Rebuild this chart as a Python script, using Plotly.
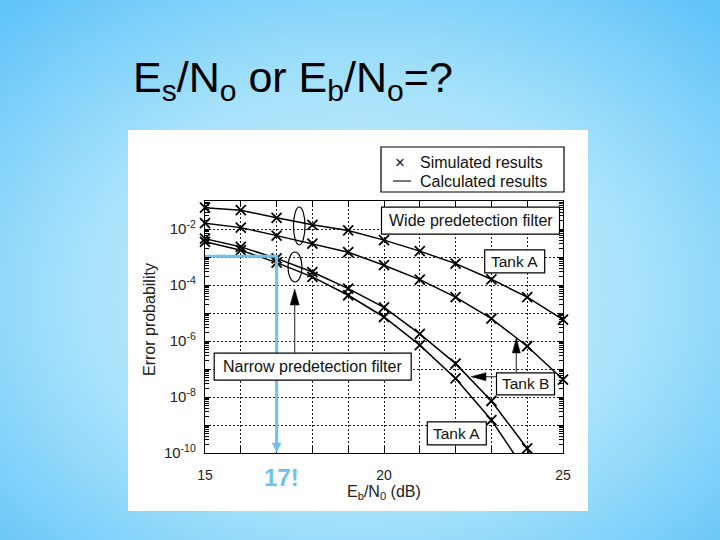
import base64
import plotly.graph_objects as go

# ---------------- data ----------------
eb_db = [15, 16, 17, 18, 19, 20, 21, 22, 23, 24, 25]
wide_tank_a = [5.75e-2, 4.68e-2, 2.51e-2, 1.41e-2, 8.9e-3, 4.0e-3, 1.62e-3, 5.8e-4, 1.6e-4, 3.7e-5, 5.8e-6]
wide_tank_b = [1.62e-2, 1.12e-2, 5.8e-3, 3.0e-3, 1.48e-3, 5.1e-4, 1.55e-4, 3.7e-5, 6.3e-6, 6.5e-7, 4.2e-8]
narrow_db_b = [15, 16, 17, 18, 19, 20, 21, 22, 23, 24]
narrow_tank_b = [4.5e-3, 2.3e-3, 8.9e-4, 2.9e-4, 7.4e-5, 1.6e-5, 1.8e-6, 1.55e-7, 7.2e-9, 1.45e-10]
narrow_db_a = [15, 16, 17, 18, 19, 20, 21, 22, 23]
narrow_tank_a = [3.5e-3, 1.75e-3, 6.3e-4, 1.95e-4, 4.3e-5, 7.2e-6, 7.1e-7, 4.6e-8, 1.5e-9]
# calculated-curve continuation below the axis floor
narrow_b_end_db, narrow_b_end_p = 24.1, 7e-11
narrow_a_end_db, narrow_a_end_p = 23.7, 7e-11

marked_db = 17
marked_p = 1.06e-3
marked_label = "17!"

x_major = [15, 20, 25]
x_minor = [16, 17, 18, 19, 21, 22, 23, 24]
y_major_exps = [-10, -8, -6, -4, -2]
y_minor_exps = [-9, -7, -5, -3, -1]

# ---------------- layout geometry ----------------
W, H = 720, 540
L, R, T, B = 205, 563, 201, 453
def px_x(x):
    return (x - L) / (R - L)
def px_y(y):
    return (B - y) / (B - T)

FONT = "Liberation Sans, Arial, Helvetica, sans-serif"
BLUE = "#6EC3EC"

fig = go.Figure()

def add_curve(xs, ys, name):
    fig.add_trace(go.Scatter(x=xs, y=ys, mode="lines", name=name,
                             line=dict(color="black", width=1.5),
                             showlegend=False, hoverinfo="skip"))

def add_marks(xs, ys, name):
    fig.add_trace(go.Scatter(x=xs, y=ys, mode="markers", name=name,
                             marker=dict(symbol="x-thin", size=10, color="black",
                                         line=dict(color="black", width=1.8)),
                             cliponaxis=False, showlegend=False))

add_curve(eb_db, wide_tank_a, "Wide, Tank A (calc)")
add_curve(eb_db, wide_tank_b, "Wide, Tank B (calc)")
add_curve(narrow_db_b + [narrow_b_end_db], narrow_tank_b + [narrow_b_end_p], "Narrow, Tank B (calc)")
add_curve(narrow_db_a + [narrow_a_end_db], narrow_tank_a + [narrow_a_end_p], "Narrow, Tank A (calc)")
add_marks(eb_db, wide_tank_a, "Wide, Tank A (sim)")
add_marks(eb_db, wide_tank_b, "Wide, Tank B (sim)")
add_marks(narrow_db_b, narrow_tank_b, "Narrow, Tank B (sim)")
add_marks(narrow_db_a, narrow_tank_a, "Narrow, Tank A (sim)")

# blue reading line
fig.add_trace(go.Scatter(x=[eb_db[0], marked_db, marked_db],
                         y=[marked_p, marked_p, 2.2e-10], mode="lines",
                         line=dict(color=BLUE, width=3), showlegend=False,
                         hoverinfo="skip"))

# overlay axis carrying the small log ticks (2..9 in each decade)
fig.add_trace(go.Scatter(x=[None], y=[None], yaxis="y2", showlegend=False, hoverinfo="skip"))

# slide background: radial gradient + white picture area
svg = ("<svg xmlns='http://www.w3.org/2000/svg' width='720' height='540' viewBox='0 0 720 540' "
       "preserveAspectRatio='none'><defs><radialGradient id='g' cx='50%' cy='55%' r='72%'>"
       "<stop offset='0' stop-color='#D9F4FD'/><stop offset='0.55' stop-color='#A6E2FB'/>"
       "<stop offset='1' stop-color='#62C4F9'/></radialGradient></defs>"
       "<rect width='720' height='540' fill='url(#g)'/>"
       "<rect x='128' y='130' width='460' height='381' fill='white'/></svg>")
bg_src = "data:image/svg+xml;base64," + base64.b64encode(svg.encode()).decode()

shapes = []
annotations = []

# ellipses grouping curves
shapes.append(dict(type="circle", xref="paper", yref="paper",
                   x0=px_x(293.5), x1=px_x(305), y0=px_y(207), y1=px_y(245),
                   line=dict(color="black", width=1.2)))
shapes.append(dict(type="circle", xref="paper", yref="paper",
                   x0=px_x(288), x1=px_x(302), y0=px_y(252), y1=px_y(282),
                   line=dict(color="black", width=1.2)))

def text(t, x, y, size=16, color="#111", xanchor="center", angle=0):
    annotations.append(dict(xref="paper", yref="paper", x=px_x(x), y=px_y(y),
                            xanchor=xanchor, yanchor="middle", showarrow=False,
                            text=t, textangle=angle,
                            font=dict(family=FONT, size=size, color=color)))

def box(t, cx, cy, w, h, size=16):
    shapes.append(dict(type="rect", xref="paper", yref="paper",
                       x0=px_x(cx - w / 2), x1=px_x(cx + w / 2),
                       y0=px_y(cy - h / 2), y1=px_y(cy + h / 2),
                       fillcolor="white", line=dict(color="black", width=1.2)))
    text(t, cx, cy, size=size)

# title and axis titles
text("E<sub>s</sub>/N<sub>o</sub> or E<sub>b</sub>/N<sub>o</sub>=?", 131, 80, size=43,
     color="black", xanchor="left")
text("Error probability", 149, 320, size=16, color="#222", angle=-90)
text("E<sub>b</sub>/N<sub>0</sub> (dB)", 384, 493, size=16, color="#222")

# legend (drawn box)
shapes.append(dict(type="rect", xref="paper", yref="paper",
                   x0=px_x(381), x1=px_x(564), y0=px_y(147), y1=px_y(192),
                   fillcolor="white", line=dict(color="black", width=1.2)))
text("×", 400, 162, size=17, color="#111")
shapes.append(dict(type="line", xref="paper", yref="paper",
                   x0=px_x(393), x1=px_x(411), y0=px_y(181), y1=px_y(181),
                   line=dict(color="#777", width=2)))
text("Simulated results", 418, 162.5, size=16, xanchor="left")
text("Calculated results", 418, 181, size=16, xanchor="left")

box("Wide predetection filter", 470.5, 220.7, 178, 27)
box("Tank A", 514.7, 261.3, 60, 23, size=15.5)
box("Narrow predetection filter", 312.7, 366.7, 197, 27)
box("Tank B", 525.5, 383.8, 58, 22, size=15.5)
box("Tank A", 456.8, 433.3, 59, 23, size=15.5)

def arrow(tip, tail, head_len, half_w, shaft_color="#444", head_color="black", width=1.2):
    tx, ty = tip
    sx, sy = tail
    dx, dy = tx - sx, ty - sy
    d = (dx * dx + dy * dy) ** 0.5
    ux, uy = dx / d, dy / d
    bx, by = tx - ux * head_len, ty - uy * head_len
    shapes.append(dict(type="line", xref="paper", yref="paper",
                       x0=px_x(sx), y0=px_y(sy), x1=px_x(bx + ux), y1=px_y(by + uy),
                       line=dict(color=shaft_color, width=width)))
    p1 = (bx - uy * half_w, by + ux * half_w)
    p2 = (bx + uy * half_w, by - ux * half_w)
    path = "M %f %f L %f %f L %f %f Z" % (px_x(tx), px_y(ty), px_x(p1[0]), px_y(p1[1]),
                                          px_x(p2[0]), px_y(p2[1]))
    shapes.append(dict(type="path", xref="paper", yref="paper", path=path,
                       fillcolor=head_color, line=dict(color=head_color, width=0.5)))

arrow((294.7, 289), (294.7, 353.3), 16, 4.5)
arrow((516.3, 338), (516.3, 372.7), 15, 4)
arrow((471, 376.7), (496.3, 376.7), 15, 4)

# blue arrowhead at the foot of the reading line + label
mx = L + (marked_db - 15) / 10 * (R - L)
arrow((mx, 452), (mx, 442), 9, 4.5, shaft_color=BLUE, head_color=BLUE, width=3)
text("<b>" + marked_label + "</b>", 281, 477, size=24, color=BLUE)

fig.update_layout(
    width=W, height=H,
    margin=dict(l=L, r=W - R, t=T, b=H - B, pad=0),
    paper_bgcolor="#9FDFFA",
    plot_bgcolor="rgba(0,0,0,0)",
    shapes=shapes, annotations=annotations,
    showlegend=False,
    images=[dict(source=bg_src, xref="paper", yref="paper", x=px_x(0), y=px_y(0),
                 sizex=W / (R - L), sizey=H / (B - T), xanchor="left", yanchor="top",
                 sizing="stretch", layer="below")],
)

GRID = dict(color="#222", dash="2px,2px")

fig.update_xaxes(range=[15, 25], tickmode="array", tickvals=x_major,
                 ticktext=[str(v) for v in x_major],
                 ticks="inside", ticklen=6, tickcolor="black",
                 minor=dict(tickmode="array", tickvals=x_minor, ticks="inside", ticklen=6,
                            tickcolor="black", showgrid=True, gridcolor=GRID["color"],
                            griddash=GRID["dash"], gridwidth=1),
                 showline=True, linecolor="black", linewidth=1.2, mirror="allticks",
                 showgrid=True, gridcolor=GRID["color"], griddash=GRID["dash"], gridwidth=1,
                 zeroline=False, ticklabelstandoff=9,
                 tickfont=dict(family=FONT, size=14, color="#222"))

fig.update_yaxes(type="log", range=[-10, -1], tickmode="array",
                 tickvals=[10.0 ** e for e in y_major_exps],
                 ticktext=["10<sup>%d</sup>" % e for e in y_major_exps],
                 ticks="inside", ticklen=6, tickcolor="black",
                 minor=dict(tickmode="array", tickvals=[10.0 ** e for e in y_minor_exps],
                            ticks="inside", ticklen=6, tickcolor="black", showgrid=True,
                            gridcolor=GRID["color"], griddash=GRID["dash"], gridwidth=1),
                 showline=True, linecolor="black", linewidth=1.2, mirror="allticks",
                 showgrid=True, gridcolor=GRID["color"], griddash=GRID["dash"], gridwidth=1,
                 zeroline=False, ticklabelstandoff=5,
                 tickfont=dict(family=FONT, size=15, color="#222"))

small_ticks = [k * 10.0 ** e for e in range(-10, -1) for k in range(2, 10)]
fig.update_layout(yaxis2=dict(type="log", range=[-10, -1], overlaying="y", side="left",
                              tickmode="array", tickvals=small_ticks, ticks="inside",
                              ticklen=4, tickcolor="black", showticklabels=False,
                              showgrid=False, showline=False, zeroline=False,
                              mirror="allticks"))

fig.write_html("out.html",
               config={"displayModeBar": False, "staticPlot": True},
               post_script="document.documentElement.style.margin='0';"
                           "document.body.style.margin='0';"
                           "document.body.style.overflow='hidden';")
